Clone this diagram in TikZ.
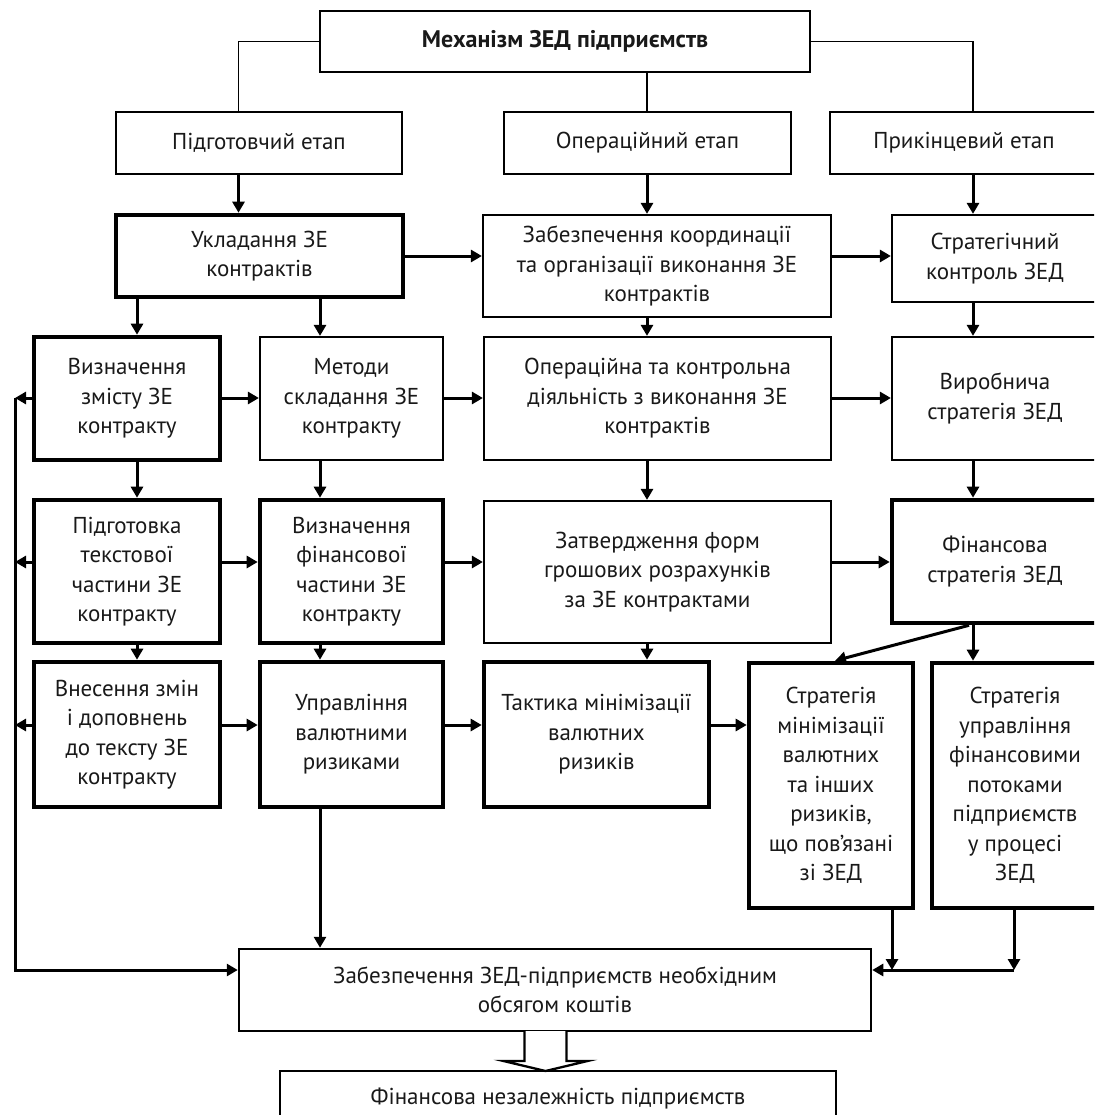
\documentclass[tikz,border=0pt]{standalone}
\usepackage{fontspec}
\setmainfont{PT Sans}
\usetikzlibrary{arrows.meta}
\begin{document}
\begin{tikzpicture}[x=1pt,y=-1pt,
  base/.style={draw, rectangle, align=center, inner sep=2pt,
    font=\fontsize{23}{29.5}\selectfont, text=black!90},
  tbox/.style={base, line width=2.2pt},
  kbox/.style={base, line width=4.6pt},
  sz/.style 2 args={minimum width=#1pt, minimum height=#2pt},
  ln/.style={line width=1.3pt},
  arr/.style={line width=3pt, -{Triangle[length=11pt,width=12pt]}},
]
\useasboundingbox (0,0) rectangle (1094,1115);
\clip (0,0) rectangle (1094,1115);

% guide coordinates
\coordinate (xA) at (238.5,0);
\coordinate (xB) at (137,0);
\coordinate (xC) at (320,0);
\coordinate (xD) at (647,0);
\coordinate (xE) at (973,0);
\coordinate (yR2) at (0,256);
\coordinate (yR3) at (0,398);
\coordinate (yR4) at (0,562);
\coordinate (yR5) at (0,725);
\coordinate (fbT) at (15,398);
\coordinate (fbB) at (15,970);
\coordinate (rA) at (892,970);
\coordinate (rB) at (1014,970);

% top
\node[tbox, line width=2.6pt, sz={490}{61}, font=\fontsize{24}{28}\selectfont\bfseries] (top) at (565,41.5) {Механізм ЗЕД підприємств};

% row 1
\node[tbox, line width=2.5pt, sz={286}{62}] (pidg) at (259,143) {Підготовчий етап};
\node[tbox, line width=2.5pt, sz={287}{62}] (oper) at (647.5,143) {Операційний етап};
\node[tbox, line width=2.5pt, sz={268}{62}] (prik) at (964,143) {Прикінцевий етап};

% row 2
\node[kbox, sz={287}{82}] (uklad) at (259.5,256) {Укладання ЗЕ\\контрактів};
\node[tbox, sz={348}{102}] (zabk) at (657,266) {Забезпечення координації\\та організації виконання ЗЕ\\контрактів};
\node[tbox, sz={206}{87}] (strk) at (995,258.5) {Стратегічний\\контроль ЗЕД};

% row 3
\node[kbox, sz={186}{123}] (vyzn) at (127,398.5) {Визначення\\змісту ЗЕ\\контракту};
\node[tbox, sz={183}{123}] (metod) at (351.5,398.5) {Методи\\складання ЗЕ\\контракту};
\node[tbox, sz={347}{123}] (opk) at (657.5,398.5) {Операційна та контрольна\\діяльність з виконання ЗЕ\\контрактів};
\node[tbox, sz={206}{123}] (vyrob) at (995,398.5) {Виробнича\\стратегія ЗЕД};

% row 4
\node[kbox, sz={186}{143}] (pidgt) at (127,571.5) {Підготовка\\текстової\\частини ЗЕ\\контракту};
\node[kbox, sz={183}{143}] (vyzf) at (351.5,571.5) {Визначення\\фінансової\\частини ЗЕ\\контракту};
\node[tbox, sz={347}{142}] (zatv) at (657.5,572) {Затвердження форм\\грошових розрахунків\\за ЗЕ контрактами};
\node[kbox, sz={206}{123}] (finstr) at (995,561.5) {Фінансова\\стратегія ЗЕД};

% row 5
\node[kbox, sz={186}{145}] (vnes) at (127,734.5) {Внесення змін\\і доповнень\\до тексту ЗЕ\\контракту};
\node[kbox, sz={183}{145}] (uprv) at (351.5,734.5) {Управління\\валютними\\ризиками};
\node[kbox, sz={225}{145}] (takt) at (596.5,734.5) {Тактика мінімізації\\валютних\\ризиків};
\node[kbox, sz={164}{245}] (strm) at (831,785.5) {Стратегія\\мінімізації\\валютних\\та інших\\ризиків,\\що пов’язані\\зі ЗЕД};
\node[kbox, sz={166}{245}] (strf) at (1015,785.5) {Стратегія\\управління\\фінансовими\\потоками\\підприємств\\у процесі\\ЗЕД};

% bottom
\node[tbox, line width=2.5pt, sz={632}{82}] (zabb) at (555,990) {Забезпечення ЗЕД-підприємств необхідним\\обсягом коштів};
\node[tbox, line width=2.5pt, sz={556}{56}] (fin) at (558,1099) {Фінансова незалежність підприємств};

% top connectors
\draw[ln] (top.west) -| (pidg.north -| xA);
\draw[ln] (top.south -| xD) -- (oper.north -| xD);
\draw[ln] (top.east) -| (prik.north -| xE);

% vertical arrows
\draw[arr] (pidg.south -| xA) -- (uklad.north -| xA);
\draw[arr] (oper.south -| xD) -- (zabk.north -| xD);
\draw[arr] (prik.south -| xE) -- (strk.north -| xE);
\draw[arr] (uklad.south -| xB) -- (vyzn.north -| xB);
\draw[arr] (uklad.south -| xC) -- (metod.north -| xC);
\draw[arr] (zabk.south -| xD) -- (opk.north -| xD);
\draw[arr] (strk.south -| xE) -- (vyrob.north -| xE);
\draw[arr] (vyzn.south -| xB) -- (pidgt.north -| xB);
\draw[arr] (metod.south -| xC) -- (vyzf.north -| xC);
\draw[arr] (opk.south -| xD) -- (zatv.north -| xD);
\draw[arr] (vyrob.south -| xE) -- (finstr.north -| xE);
\draw[arr] (pidgt.south -| xB) -- (vnes.north -| xB);
\draw[arr] (vyzf.south -| xC) -- (uprv.north -| xC);
\draw[arr] (zatv.south -| xD) -- (takt.north -| xD);
\draw[arr] (finstr.south -| xE) -- (strf.north -| xE);
\draw[arr] ([xshift=-26pt]finstr.south) -- ([xshift=4pt]strm.north);
\draw[arr] (uprv.south -| xC) -- (zabb.north -| xC);

% horizontal arrows
\draw[arr] (uklad.east |- yR2) -- (zabk.west |- yR2);
\draw[arr] (zabk.east |- yR2) -- (strk.west |- yR2);
\draw[arr] (vyzn.east |- yR3) -- (metod.west |- yR3);
\draw[arr] (metod.east |- yR3) -- (opk.west |- yR3);
\draw[arr] (opk.east |- yR3) -- (vyrob.west |- yR3);
\draw[arr] (pidgt.east |- yR4) -- (vyzf.west |- yR4);
\draw[arr] (vyzf.east |- yR4) -- (zatv.west |- yR4);
\draw[arr] (zatv.east |- yR4) -- (finstr.west |- yR4);
\draw[arr] (vnes.east |- yR5) -- (uprv.west |- yR5);
\draw[arr] (uprv.east |- yR5) -- (takt.west |- yR5);
\draw[arr] (takt.east |- yR5) -- (strm.west |- yR5);

% left feedback
\draw[arr] (vyzn.west |- yR3) -- (fbT);
\draw[arr] (pidgt.west |- yR4) -- (fbT |- yR4);
\draw[arr] (vnes.west |- yR5) -- (fbT |- yR5);
\draw[arr] (fbT) -- (fbB) -- (zabb.west |- fbB);

% right inputs
\draw[arr] (strm.south -| rA) -- (rA);
\draw[arr] (strf.south -| rB) -- (rB);
\draw[arr] (rB) -- (zabb.east |- rB);

% block arrow
\draw[line width=2.3pt, fill=white, line join=miter]
  (524.5,1031) -- (524.5,1061) -- (503.5,1061) -- (545.5,1071)
  -- (587.5,1061) -- (566.5,1061) -- (566.5,1031);
\end{tikzpicture}
\end{document}
